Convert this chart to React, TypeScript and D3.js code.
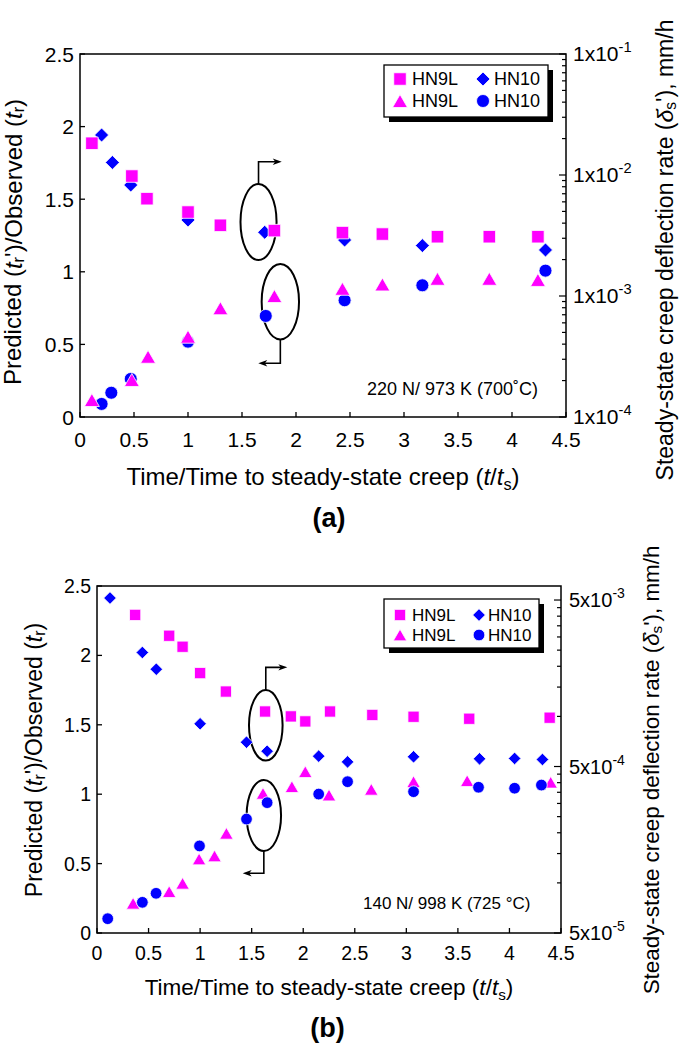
import React from 'react';
import * as d3 from 'd3';

// ---------- shared axis values ----------
const X_TICKS = [0, 0.5, 1, 1.5, 2, 2.5, 3, 3.5, 4, 4.5];
const Y_TICKS = [0, 0.5, 1, 1.5, 2, 2.5];
const LEGEND_NAMES = ['HN9L', 'HN10'];

// ---------- Panel (a): 220 N / 973 K (700 °C) ----------
const A_HN9L_RATE_X = [0.11, 0.48, 0.62, 1.0, 1.3, 1.8, 2.43, 2.8, 3.31, 3.79, 4.24];
const A_HN9L_RATE = [1.83e-2, 9.8e-3, 6.37e-3, 4.94e-3, 3.84e-3, 3.47e-3, 3.34e-3, 3.25e-3, 3.09e-3, 3.09e-3, 3.09e-3];
const A_HN10_RATE_X = [0.2, 0.3, 0.47, 1.0, 1.71, 2.45, 3.17, 4.31];
const A_HN10_RATE = [2.14e-2, 1.27e-2, 8.26e-3, 4.25e-3, 3.36e-3, 2.9e-3, 2.61e-3, 2.4e-3];
const A_HN9L_RATIO_X = [0.11, 0.48, 0.63, 1.0, 1.3, 1.8, 2.43, 2.8, 3.31, 3.79, 4.24];
const A_HN9L_RATIO = [0.117, 0.255, 0.415, 0.553, 0.749, 0.833, 0.883, 0.913, 0.952, 0.952, 0.944];
const A_HN10_RATIO_X = [0.2, 0.29, 0.47, 1.0, 1.72, 2.45, 3.17, 4.31];
const A_HN10_RATIO = [0.09, 0.167, 0.262, 0.519, 0.696, 0.804, 0.907, 1.008];
const A_RATE_LABELS = [1e-4, 1e-3, 1e-2, 1e-1];

// ---------- Panel (b): 140 N / 998 K (725 °C) ----------
const B_HN9L_RATE_X = [0.37, 0.7, 0.83, 1.0, 1.25, 1.63, 1.88, 2.02, 2.26, 2.67, 3.07, 3.61, 4.39];
const B_HN9L_RATE = [4.07e-3, 3.05e-3, 2.62e-3, 1.82e-3, 1.41e-3, 1.07e-3, 1.0e-3, 9.33e-4, 1.07e-3, 1.02e-3, 9.95e-4, 9.68e-4, 9.82e-4];
const B_HN10_RATE_X = [0.126, 0.44, 0.575, 1.0, 1.45, 1.65, 2.15, 2.43, 3.07, 3.71, 4.05, 4.32];
const B_HN10_RATE = [5.14e-3, 2.42e-3, 1.92e-3, 9.03e-4, 7.0e-4, 6.18e-4, 5.77e-4, 5.33e-4, 5.72e-4, 5.56e-4, 5.59e-4, 5.51e-4];
const B_HN9L_RATIO_X = [0.35, 0.7, 0.83, 0.99, 1.14, 1.255, 1.61, 1.89, 2.02, 2.25, 2.66, 3.07, 3.59, 4.4];
const B_HN9L_RATIO = [0.214, 0.298, 0.358, 0.533, 0.555, 0.718, 1.006, 1.054, 1.162, 0.994, 1.035, 1.09, 1.097, 1.086];
const B_HN10_RATIO_X = [0.104, 0.44, 0.573, 0.994, 1.45, 1.65, 2.15, 2.43, 3.07, 3.7, 4.05, 4.31];
const B_HN10_RATIO = [0.103, 0.221, 0.286, 0.627, 0.821, 0.939, 1.001, 1.09, 1.018, 1.05, 1.043, 1.066];
const B_RATE_LABELS = [5e-5, 5e-4, 5e-3];

const MAGENTA = '#ff00ff';
const BLUE = '#0000ff';
const FONT = '"Liberation Sans", Arial, Helvetica, sans-serif';

const zip = (xs: number[], ys: number[]) => xs.map((v, i) => [v, ys[i]]);

type Cfg = any;

const PANEL_A: Cfg = {
  left: 80, right: 566, top: 54, bottom: 417,
  rateDomain: [1e-4, 1e-1], rateBase: 1, rateLabels: A_RATE_LABELS,
  tickFont: 21, xTickY: 447, yTickX: 74,
  xTitleY: 485, xTitleFont: 24,
  leftTitleX: 12.5, leftTitleCY: 242, leftTitleFont: 24,
  rightTitleX: 665, rightTitleCY: 250, rightTitleFont: 23,
  rightLabelX: 573, rightLabelFont: 21,
  legend: { x: 384, y: 65, w: 164, h: 52, r1: 79, r2: 101, font: 18, m1: 400, t1: 412, m2: 483, t2: 494 },
  note: { x: 367, y: 395, text: '220 N/ 973 K (700˚C)', font: 18 },
  tag: { text: '(a)', x: 329, y: 527 },
  ms: 1,
  circlesOnTop: false,
  ell1: { cx: 1.653, cy: 1.343, rx: 0.167, ry: 0.262, lineTo: 1.758, arrowTo: 1.868 },
  ell2: { cx: 1.855, cy: 0.794, rx: 0.173, ry: 0.26, lineTo: 0.37, arrowTo: 1.651 },
  sq: zip(A_HN9L_RATE_X, A_HN9L_RATE),
  di: zip(A_HN10_RATE_X, A_HN10_RATE),
  tr: zip(A_HN9L_RATIO_X, A_HN9L_RATIO),
  ci: zip(A_HN10_RATIO_X, A_HN10_RATIO),
};

const PANEL_B: Cfg = {
  left: 97, right: 561, top: 586, bottom: 933,
  rateDomain: [5e-5, 6.07e-3], rateBase: 5, rateLabels: B_RATE_LABELS,
  tickFont: 19.5, xTickY: 960, yTickX: 91,
  xTitleY: 995, xTitleFont: 22.5,
  leftTitleX: 34, leftTitleCY: 760, leftTitleFont: 23,
  rightTitleX: 651, rightTitleCY: 770, rightTitleFont: 22.4,
  rightLabelX: 569, rightLabelFont: 20,
  legend: { x: 384, y: 599, w: 155, h: 49, r1: 615, r2: 635, font: 17, m1: 400, t1: 412, m2: 479, t2: 488 },
  note: { x: 363, y: 909, text: '140 N/ 998 K (725 °C)', font: 17 },
  tag: { text: '(b)', x: 327.5, y: 1037 },
  ms: 0.9,
  circlesOnTop: true,
  ell1: { cx: 1.637, cy: 1.496, rx: 0.163, ry: 0.254, lineTo: 1.914, arrowTo: 1.846 },
  ell2: { cx: 1.618, cy: 0.847, rx: 0.167, ry: 0.256, lineTo: 0.43, arrowTo: 1.413 },
  sq: zip(B_HN9L_RATE_X, B_HN9L_RATE),
  di: zip(B_HN10_RATE_X, B_HN10_RATE),
  tr: zip(B_HN9L_RATIO_X, B_HN9L_RATIO),
  ci: zip(B_HN10_RATIO_X, B_HN10_RATIO),
};

const squarePath = (cx: number, cy: number, s: number) =>
  `M${cx - s / 2},${cy - s / 2}h${s}v${s}h${-s}Z`;
const diamondPath = (cx: number, cy: number, d: number) =>
  `M${cx},${cy - d}L${cx + d},${cy}L${cx},${cy + d}L${cx - d},${cy}Z`;
const trianglePath = (cx: number, cy: number, w: number, h: number) =>
  `M${cx},${cy - h / 2}L${cx + w / 2},${cy + h / 2}L${cx - w / 2},${cy + h / 2}Z`;

function Marker({ kind, cx, cy, ms }: { kind: string; cx: number; cy: number; ms: number }) {
  const sw = 0.8;
  if (kind === 'sq') return <path d={squarePath(cx, cy, 12.5 * ms)} fill={MAGENTA} stroke="#fff" strokeWidth={sw} />;
  if (kind === 'di') return <path d={diamondPath(cx, cy, 7 * ms)} fill={BLUE} stroke="#fff" strokeWidth={sw} />;
  if (kind === 'tr') return <path d={trianglePath(cx, cy, 15 * ms, 13 * ms)} fill={MAGENTA} stroke="#fff" strokeWidth={sw} />;
  return <circle cx={cx} cy={cy} r={6.5 * ms} fill={BLUE} stroke="#fff" strokeWidth={sw} />;
}

function expLabel(v: number) {
  const e = Math.floor(Math.log10(v) + 1e-9);
  const m = Math.round(v / Math.pow(10, e));
  return { m, e };
}

function Panel({ c }: { c: Cfg }) {
  const x = d3.scaleLinear().domain([0, 4.5]).range([c.left, c.right]);
  const y = d3.scaleLinear().domain([0, 2.5]).range([c.bottom, c.top]);
  const yr = d3.scaleLog().domain(c.rateDomain).range([c.bottom, c.top]);

  const rTicks: { v: number; major: boolean }[] = [];
  for (let n = -6; n <= 0; n++) {
    for (let k = 1; k <= 9; k++) {
      const v = c.rateBase * k * Math.pow(10, n);
      if (v >= c.rateDomain[0] * 0.999 && v <= c.rateDomain[1] * 1.001) rTicks.push({ v, major: k === 1 });
    }
  }

  const arrowHead = (px: number, py: number, dir: number) => (
    <path d={`M${px},${py}L${px - dir * 9},${py - 3.2}L${px - dir * 6.5},${py}L${px - dir * 9},${py + 3.2}Z`} fill="#000" />
  );

  const e1 = c.ell1, e2 = c.ell2;
  const e1cx = x(e1.cx), e1cy = y(e1.cy), e1rx = x(e1.rx) - x(0), e1ry = y(0) - y(e1.ry);
  const e2cx = x(e2.cx), e2cy = y(e2.cy), e2rx = x(e2.rx) - x(0), e2ry = y(0) - y(e2.ry);

  const L = c.legend;
  const fs = c.tickFont;

  const sqM = c.sq.map(([a, b]: number[], i: number) => <Marker key={'s' + i} kind="sq" cx={x(a)} cy={yr(b)} ms={c.ms} />);
  const diM = c.di.map(([a, b]: number[], i: number) => <Marker key={'d' + i} kind="di" cx={x(a)} cy={yr(b)} ms={c.ms} />);
  const trM = c.tr.map(([a, b]: number[], i: number) => <Marker key={'t' + i} kind="tr" cx={x(a)} cy={y(b)} ms={c.ms} />);
  const ciM = c.ci.map(([a, b]: number[], i: number) => <Marker key={'c' + i} kind="ci" cx={x(a)} cy={y(b)} ms={c.ms} />);

  return (
    <g fontFamily={FONT}>
      <g fill="none" stroke="#000">
        <ellipse cx={e1cx} cy={e1cy} rx={e1rx} ry={e1ry} strokeWidth={2} />
        <path d={`M${e1cx},${e1cy - e1ry}V${y(e1.lineTo)}H${x(e1.arrowTo) - 6}`} strokeWidth={1.6} />
        <ellipse cx={e2cx} cy={e2cy} rx={e2rx} ry={e2ry} strokeWidth={2} />
        <path d={`M${e2cx},${e2cy + e2ry}V${y(e2.lineTo)}H${x(e2.arrowTo) + 6}`} strokeWidth={1.6} />
      </g>
      {arrowHead(x(e1.arrowTo), y(e1.lineTo), 1)}
      {arrowHead(x(e2.arrowTo), y(e2.lineTo), -1)}

      {diM}
      {sqM}
      {c.circlesOnTop ? trM : ciM}
      {c.circlesOnTop ? ciM : trM}

      <rect x={c.left} y={c.top} width={c.right - c.left} height={c.bottom - c.top} fill="none" stroke="#000" strokeWidth={1.5} />

      {X_TICKS.map((t) => (
        <g key={'x' + t}>
          <line x1={x(t)} x2={x(t)} y1={c.bottom} y2={c.bottom - 5} stroke="#000" strokeWidth={1.3} />
          <text x={x(t)} y={c.xTickY} fontSize={fs} textAnchor="middle">{d3.format('~g')(t)}</text>
        </g>
      ))}
      {Y_TICKS.map((t) => (
        <g key={'y' + t}>
          <line x1={c.left} x2={c.left + 5} y1={y(t)} y2={y(t)} stroke="#000" strokeWidth={1.3} />
          <text x={c.yTickX} y={y(t) + fs * 0.36} fontSize={fs} textAnchor="end">{d3.format('~g')(t)}</text>
        </g>
      ))}
      {rTicks.map((t, i) => (
        <line key={'r' + i} x1={c.right} x2={c.right - (t.major ? 7 : 4)} y1={yr(t.v)} y2={yr(t.v)} stroke="#000" strokeWidth={1.2} />
      ))}
      {c.rateLabels.map((v: number) => {
        const { m, e } = expLabel(v);
        return (
          <text key={'rl' + v} x={c.rightLabelX} y={yr(v) + 7} fontSize={c.rightLabelFont}>
            {`${m}x10`}
            <tspan fontSize={c.rightLabelFont * 0.7} dy={-9}>{`${e}`}</tspan>
          </text>
        );
      })}

      <text x={(c.left + c.right) / 2} y={c.xTitleY} fontSize={c.xTitleFont} textAnchor="middle">
        Time/Time to steady-state creep (<tspan fontStyle="italic">t</tspan>/<tspan fontStyle="italic">t</tspan>
        <tspan fontSize={c.xTitleFont * 0.68} dy={5}>s</tspan>
        <tspan dy={-5}>)</tspan>
      </text>

      <text transform={`translate(${c.leftTitleX},${c.leftTitleCY}) rotate(-90)`} fontSize={c.leftTitleFont} textAnchor="middle" dominantBaseline="central">
        Predicted (<tspan fontStyle="italic">t</tspan>
        <tspan fontSize={c.leftTitleFont * 0.68} dy={5}>r</tspan>
        <tspan dy={-5}>')/Observed (</tspan>
        <tspan fontStyle="italic">t</tspan>
        <tspan fontSize={c.leftTitleFont * 0.68} dy={5}>r</tspan>
        <tspan dy={-5}>)</tspan>
      </text>

      <text transform={`translate(${c.rightTitleX},${c.rightTitleCY}) rotate(-90)`} fontSize={c.rightTitleFont} textAnchor="middle" dominantBaseline="central">
        Steady-state creep deflection rate (<tspan fontStyle="italic">{'δ\u0307'}</tspan>
        <tspan fontSize={c.rightTitleFont * 0.68} dy={5}>s</tspan>
        <tspan dy={-5}>'), mm/h</tspan>
      </text>

      <rect x={L.x + 5} y={L.y + 5} width={L.w} height={L.h} fill="#000" />
      <rect x={L.x} y={L.y} width={L.w} height={L.h} fill="#fff" stroke="#000" strokeWidth={1.3} />
      <Marker kind="sq" cx={L.m1} cy={L.r1} ms={c.ms} />
      <Marker kind="di" cx={L.m2} cy={L.r1} ms={c.ms} />
      <Marker kind="tr" cx={L.m1} cy={L.r2} ms={c.ms} />
      <Marker kind="ci" cx={L.m2} cy={L.r2} ms={c.ms} />
      <text x={L.t1} y={L.r1 + L.font * 0.36} fontSize={L.font}>{LEGEND_NAMES[0]}</text>
      <text x={L.t2} y={L.r1 + L.font * 0.36} fontSize={L.font}>{LEGEND_NAMES[1]}</text>
      <text x={L.t1} y={L.r2 + L.font * 0.36} fontSize={L.font}>{LEGEND_NAMES[0]}</text>
      <text x={L.t2} y={L.r2 + L.font * 0.36} fontSize={L.font}>{LEGEND_NAMES[1]}</text>

      <text x={c.note.x} y={c.note.y} fontSize={c.note.font}>{c.note.text}</text>

      <text x={c.tag.x} y={c.tag.y} fontSize={27} fontWeight="bold" textAnchor="middle">{c.tag.text}</text>
    </g>
  );
}

export default function App() {
  return (
    <svg width={685} height={1047} style={{ position: 'absolute', left: 0, top: 0, background: '#fff' }}>
      <rect width={685} height={1047} fill="#fff" />
      <Panel c={PANEL_A} />
      <Panel c={PANEL_B} />
    </svg>
  );
}
